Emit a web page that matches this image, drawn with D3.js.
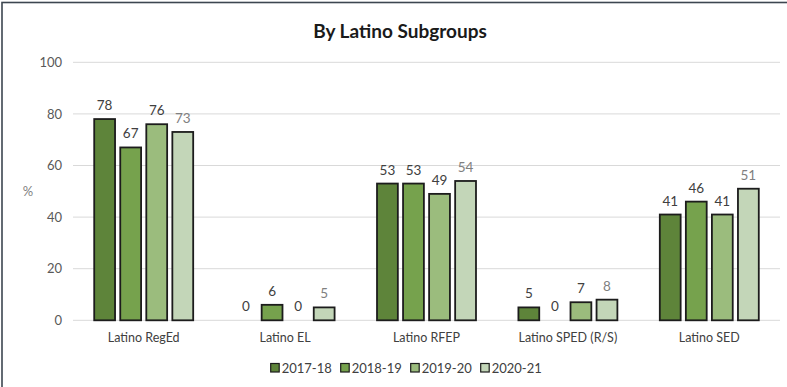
<!DOCTYPE html>
<html>
<head>
<meta charset="utf-8">
<script src="https://cdn.jsdelivr.net/npm/d3@7"></script>
<style>
  html, body { margin: 0; padding: 0; background: #ffffff; }
  svg { display: block; }
  text { font-family: Lato, "Open Sans", sans-serif; }
</style>
</head>
<body>
<svg id="chart" width="787" height="387"></svg>
<script>
// Subgroups shown along the x axis
const categories = ["Latino RegEd", "Latino EL", "Latino RFEP", "Latino SPED (R/S)", "Latino SED"];
// School years (one bar per year in each group)
const years = ["2017-18", "2018-19", "2019-20", "2020-21"];
// Percent values per year, in category order
const values2017 = [78, 0, 53, 5, 41];
const values2018 = [67, 6, 53, 0, 46];
const values2019 = [76, 0, 49, 7, 41];
const values2020 = [73, 5, 54, 8, 51];
const yTicks = [0, 20, 40, 60, 80, 100];

const seriesValues = [values2017, values2018, values2019, values2020];
const fills = ["#5e843a", "#76a24d", "#9bbc7d", "#c3d6b8"];
const labelColors = ["#404040", "#404040", "#404040", "#808080"];

const svg = d3.select("#chart");
const W = 787, H = 387;
const margin = { left: 73, right: 7, top: 62.3, bottom: 66.7 };
const plotW = W - margin.left - margin.right;
const plotH = H - margin.top - margin.bottom;

// frame around the chart area
svg.append("rect")
  .attr("x", 2).attr("y", 2.5)
  .attr("width", W + 10).attr("height", H + 10)
  .attr("fill", "none").attr("stroke", "#3d4650").attr("stroke-width", 1.6);

// title
svg.append("text")
  .attr("x", 400).attr("y", 38)
  .attr("text-anchor", "middle")
  .attr("font-size", 19).attr("font-weight", 700)
  .attr("fill", "#1a1a1a")
  .text("By Latino Subgroups");

const g = svg.append("g").attr("transform", `translate(${margin.left},${margin.top})`);

const y = d3.scaleLinear().domain([0, 100]).range([plotH, 0]);
const x0 = d3.scaleBand().domain(categories).range([0, plotW]).paddingInner(0.3).paddingOuter(0.15);
const x1 = d3.scaleBand().domain(years).range([0, x0.bandwidth()]).paddingInner(0.2);

// horizontal gridlines
g.append("g").selectAll("line").data(yTicks).join("line")
  .attr("x1", 0).attr("x2", plotW)
  .attr("y1", d => y(d)).attr("y2", d => y(d))
  .attr("stroke", "#d9d9d9").attr("stroke-width", 1);

// y axis tick labels
const yAxis = d3.axisLeft(y).tickValues(yTicks).tickSize(0).tickPadding(11);
const yG = g.append("g").call(yAxis);
yG.select(".domain").remove();
yG.selectAll("text")
  .attr("font-family", "Lato, 'Open Sans', sans-serif")
  .attr("font-size", 13).attr("fill", "#595959");

// y axis unit label
svg.append("text")
  .attr("x", 28).attr("y", 196)
  .attr("text-anchor", "middle")
  .attr("font-size", 13).attr("fill", "#7f7f7f")
  .text("%");

// x axis category labels
const xAxis = d3.axisBottom(x0).tickSize(0).tickPadding(13);
const xG = g.append("g").attr("transform", `translate(0,${plotH})`).call(xAxis);
xG.select(".domain").remove();
xG.selectAll("text")
  .attr("font-family", "Lato, 'Open Sans', sans-serif")
  .attr("font-size", 12.5).attr("fill", "#404040");

// bars
const rows = [];
categories.forEach((c, i) => {
  years.forEach((yr, j) => {
    rows.push({ cat: c, year: yr, idx: j, value: seriesValues[j][i] });
  });
});

const groups = g.append("g").selectAll("g").data(categories).join("g")
  .attr("transform", d => `translate(${x0(d)},0)`);

groups.selectAll("rect")
  .data(c => rows.filter(r => r.cat === c && r.value > 0))
  .join("rect")
  .attr("x", d => x1(d.year))
  .attr("y", d => y(d.value))
  .attr("width", x1.bandwidth())
  .attr("height", d => y(0) - y(d.value))
  .attr("fill", d => fills[d.idx])
  .attr("stroke", "#1c1c1c").attr("stroke-width", 1.8);

// value labels
groups.selectAll("text.val")
  .data(c => rows.filter(r => r.cat === c))
  .join("text")
  .attr("class", "val")
  .attr("x", d => x1(d.year) + x1.bandwidth() / 2)
  .attr("y", d => y(d.value) - 9)
  .attr("text-anchor", "middle")
  .attr("font-size", 13.5)
  .attr("fill", d => labelColors[d.idx])
  .text(d => d.value);

// legend
const legend = svg.append("g").attr("transform", "translate(270.7,368)");
const li = legend.selectAll("g").data(years).join("g")
  .attr("transform", (d, i) => `translate(${i * 70},0)`);
li.append("rect")
  .attr("x", 0).attr("y", -4.5).attr("width", 8.5).attr("height", 8.5)
  .attr("fill", (d, i) => fills[i])
  .attr("stroke", "#1c1c1c").attr("stroke-width", 1.2);
li.append("text")
  .attr("x", 11).attr("y", 4.8)
  .attr("font-size", 13).attr("fill", "#404040")
  .text(d => d);
</script>
</body>
</html>
